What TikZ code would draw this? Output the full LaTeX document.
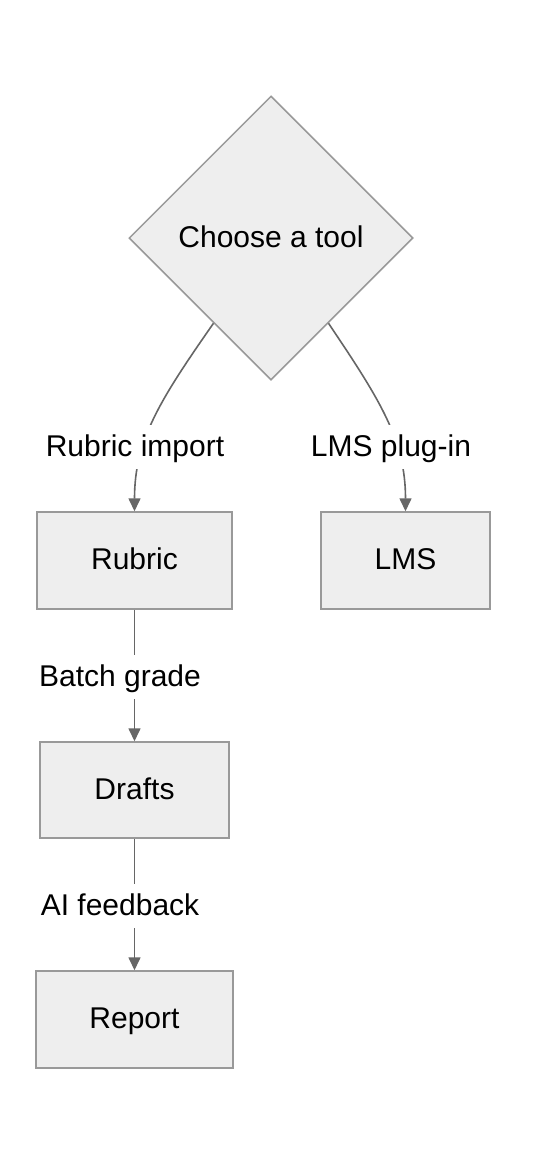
\documentclass[tikz,border=0pt]{standalone}
\usepackage{fontspec}
\setmainfont{Liberation Sans}
\usepackage{tikz}
\usetikzlibrary{arrows.meta,shapes.geometric}
\definecolor{boxfill}{HTML}{EEEEEE}
\definecolor{boxline}{HTML}{999999}
\definecolor{edgeline}{HTML}{666666}
\newcommand{\flowfont}{\fontsize{30}{36}\selectfont}
\tikzset{
  txt/.style={font=\flowfont, text height=22pt, text depth=4pt},
  box/.style={txt, draw=boxline, fill=boxfill, line width=1.5pt, inner sep=0pt},
  choice/.style={txt, diamond, aspect=1, draw=boxline, fill=boxfill, line width=1.5pt, inner sep=0pt, minimum width=284pt, minimum height=284pt},
  conn/.style={draw=edgeline, line width=1.6pt, -{Triangle[width=12pt,length=13pt]}},
  lbl/.style={txt, fill=white, inner sep=0pt, minimum height=44pt},
}

\begin{document}
\begin{tikzpicture}[x=1pt,y=-1pt]
  \fill[white] (0,0) rectangle (538,1164);
  \useasboundingbox (0,0) rectangle (538,1164);

  \node[choice] (ch) at (271,238) {Choose a tool};
  \node[box, minimum width=195pt, minimum height=97pt] (rub) at (134.5,560.5) {Rubric};
  \node[box, minimum width=169pt, minimum height=97pt] (lms) at (405.5,560.5) {LMS};
  \node[box, minimum width=189pt, minimum height=96pt] (dra) at (134.5,790) {Drafts};
  \node[box, minimum width=197pt, minimum height=97pt] (rep) at (134.5,1019.5) {Report};

  \draw[conn] (ch.236) .. controls (160,400) and (134.5,440) .. (rub.north);
  \draw[conn] (ch.304) .. controls (380,400) and (405.5,440) .. (lms.north);
  \draw[conn] (rub) -- (dra);
  \draw[conn] (dra) -- (rep);

  \node[lbl] (lrub) at (135,447) {Rubric import};
  \node[lbl] (llms) at (391,447) {LMS plug-in};
  \node[lbl] (lbat) at (120,677) {Batch grade};
  \node[lbl] (lfee) at (120,906) {AI feedback};
\end{tikzpicture}
\end{document}
